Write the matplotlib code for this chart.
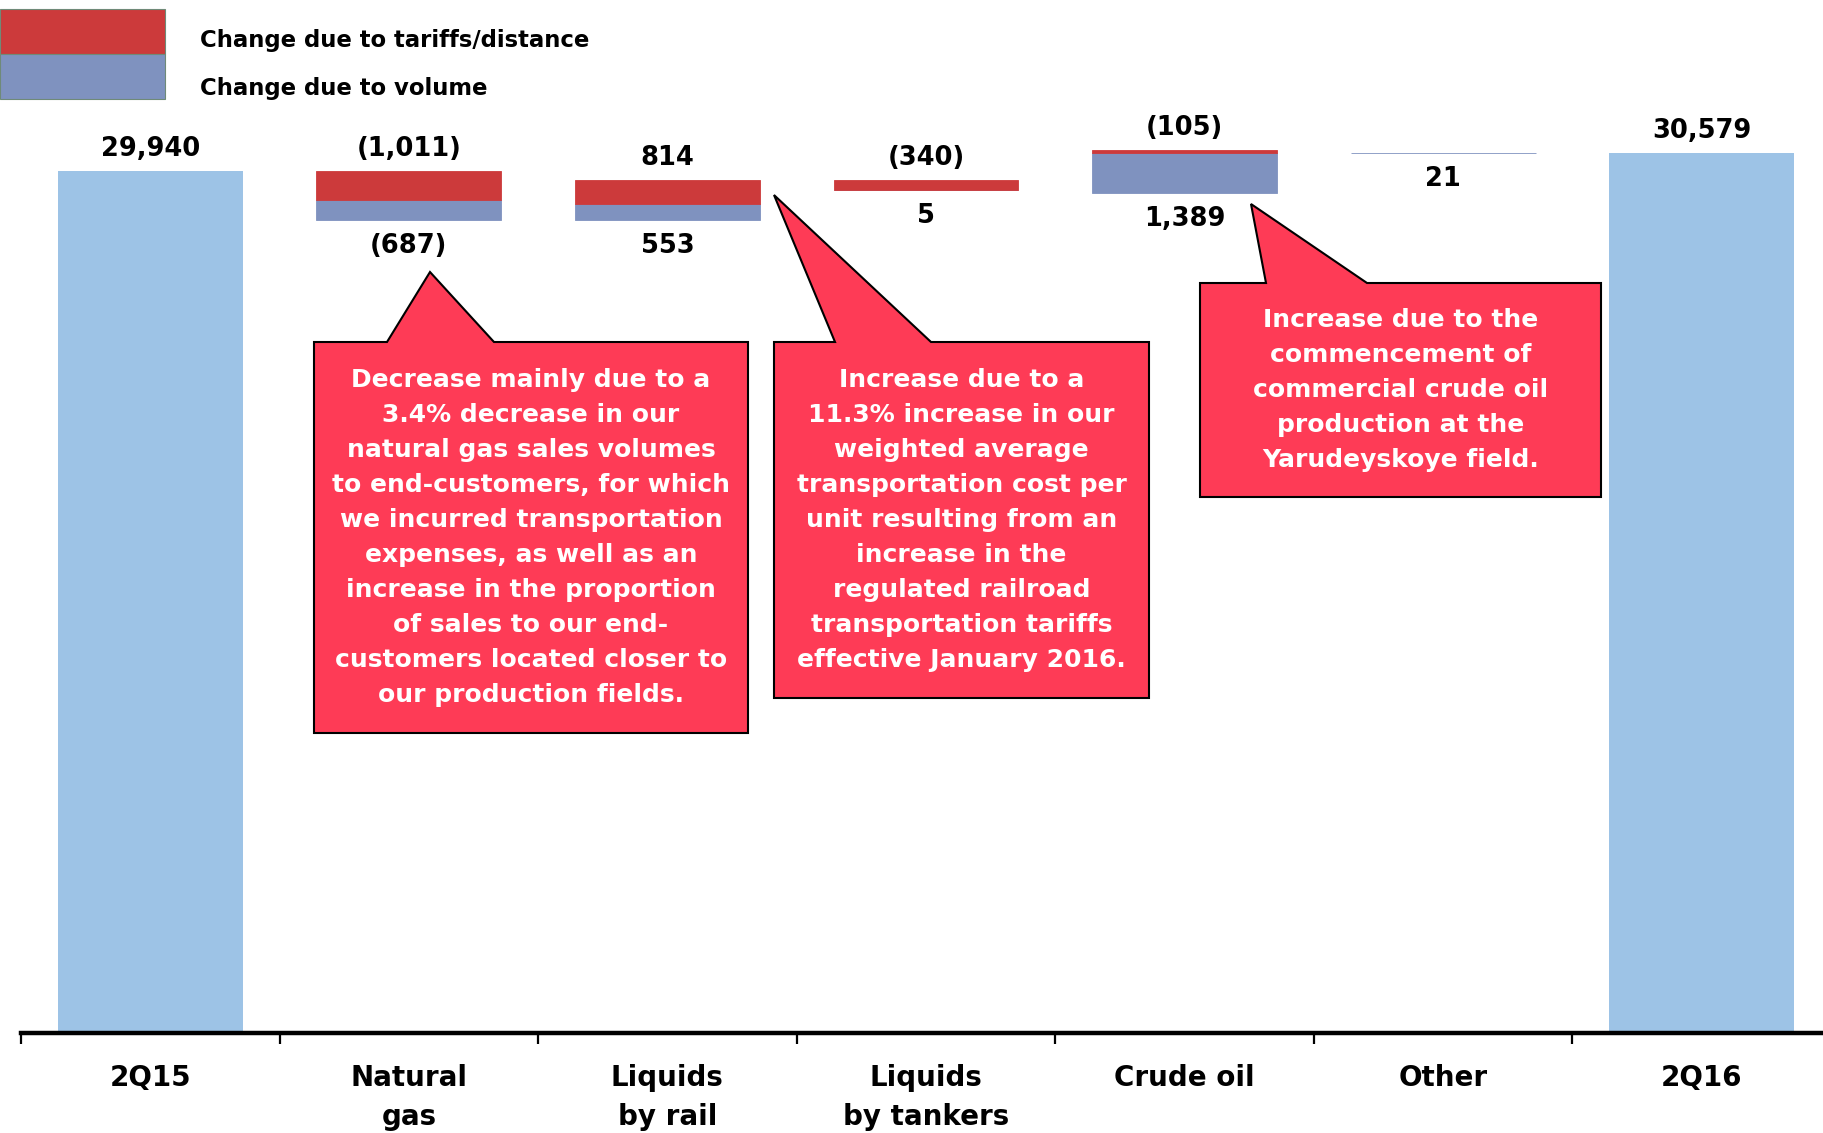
import matplotlib
matplotlib.use("Agg")
import matplotlib.pyplot as plt
from matplotlib.patches import Polygon, Rectangle

plt.rcParams['font.family'] = ['DejaVu Sans']

# ---- data ----
categories = ["2Q15", "Natural\ngas", "Liquids\nby rail", "Liquids\nby tankers",
              "Crude oil", "Other", "2Q16"]
start_total = 29940
end_total = 30579
change_categories = ["Natural\ngas", "Liquids\nby rail", "Liquids\nby tankers", "Crude oil", "Other"]
tariff_change = [-1011, 814, -340, -105, None]
volume_change = [-687, 553, 5, 1389, 21]

legend_labels = ["Change due to tariffs/distance", "Change due to volume"]

callout_texts = [
    "Decrease mainly due to a\n3.4% decrease in our\nnatural gas sales volumes\nto end-customers, for which\n"
    "we incurred transportation\nexpenses, as well as an\nincrease in the proportion\nof sales to our end-\n"
    "customers located closer to\nour production fields.",
    "Increase due to a\n11.3% increase in our\nweighted average\ntransportation cost per\nunit resulting from an\n"
    "increase in the\nregulated railroad\ntransportation tariffs\neffective January 2016.",
    "Increase due to the\ncommencement of\ncommercial crude oil\nproduction at the\nYarudeyskoye field.",
]

# ---- styles ----
RED = "#CC3A3B"
BLUE = "#7F92BF"
TOTAL = "#9DC3E6"
CALLOUT = "#FE3B56"
W, H = 1824, 1133

def fmt(v):
    s = f"{abs(v):,}"
    return f"({s})" if v < 0 else s

fig = plt.figure(figsize=(W / 100, H / 100), dpi=100)
ax = fig.add_axes([21 / W, 100 / H, 1810 / W, 1033 / H])
ax.set_xlim(-0.5, 6.5)
ax.set_ylim(0, 35876)

bw = 0.715
lbl_kw = dict(ha="center", va="center", fontsize=18.5, fontweight="bold",
              textcoords="offset pixels", color="black")

# totals
for x, val in [(0, start_total), (6, end_total)]:
    ax.bar(x, val, width=bw, color=TOTAL, linewidth=0)
    ax.annotate(fmt(val), (x, val), xytext=(0, 22), **lbl_kw)

# changes
level = start_total
for i, (t, v) in enumerate(zip(tariff_change, volume_change)):
    x = i + 1
    tt = t if t is not None else 0
    top = max(level, level + v, level + tt, level + v + tt)
    red_bottom = top - abs(tt)
    blue_bottom = red_bottom - abs(v)
    ax.bar(x, abs(v), bottom=blue_bottom, width=bw, color=BLUE, edgecolor=BLUE, linewidth=0.6)
    if t is not None:
        ax.bar(x, abs(tt), bottom=red_bottom, width=bw, color=RED, edgecolor=RED, linewidth=0.6)
        ax.annotate(fmt(t), (x, top), xytext=(0, 22), **lbl_kw)
    ax.annotate(fmt(v), (x, blue_bottom), xytext=(0, -26), **lbl_kw)
    level = level + v + tt

# axes styling
for s in ["top", "right", "left"]:
    ax.spines[s].set_visible(False)
ax.spines["bottom"].set_linewidth(3.2)
ax.set_yticks([])
ax.set_xticks([i - 0.5 for i in range(8)])
ax.set_xticklabels([])
ax.tick_params(axis="x", which="major", direction="out", length=8, width=1.6, color="black")
ax.set_xticks(range(7), minor=True)
ax.set_xticklabels(categories, minor=True, fontsize=20, fontweight="bold", linespacing=1.5)
ax.tick_params(axis="x", which="minor", length=0, pad=22)

# legend (manual)
def fx(px):
    return px / W

def fy(py):
    return 1 - py / H

fig.add_artist(Rectangle((fx(0), fy(54)), fx(165), 45 / H, transform=fig.transFigure,
                         facecolor=RED, edgecolor="#6F8A78", linewidth=0.8))
fig.add_artist(Rectangle((fx(0), fy(99)), fx(165), 45 / H, transform=fig.transFigure,
                         facecolor=BLUE, edgecolor="#6F8A78", linewidth=0.8))
fig.text(fx(200), fy(40), legend_labels[0], fontsize=16.4, fontweight="bold", va="center", ha="left")
fig.text(fx(200), fy(88), legend_labels[1], fontsize=16.4, fontweight="bold", va="center", ha="left")

# callouts
callouts = [
    dict(box=(314, 342, 748, 733), ptr=[(387, 342), (430, 272), (494, 342)]),
    dict(box=(774, 342, 1149, 698), ptr=[(835, 342), (774, 195), (931, 342)]),
    dict(box=(1200, 283, 1601, 497), ptr=[(1266, 283), (1251, 204), (1367, 283)]),
]
for c, txt in zip(callouts, callout_texts):
    x0, y0, x1, y1 = c["box"]
    pts = [(x0, y0)] + c["ptr"] + [(x1, y0), (x1, y1), (x0, y1)]
    poly = Polygon([(fx(px), fy(py)) for px, py in pts], closed=True, transform=fig.transFigure,
                   facecolor=CALLOUT, edgecolor="black", linewidth=1.5)
    fig.add_artist(poly)
    fig.text(fx((x0 + x1) / 2), fy((y0 + y1) / 2), txt, ha="center", va="center",
             color="white", fontsize=18, fontweight="bold", linespacing=1.58)

fig.savefig("out.png", dpi=100)
